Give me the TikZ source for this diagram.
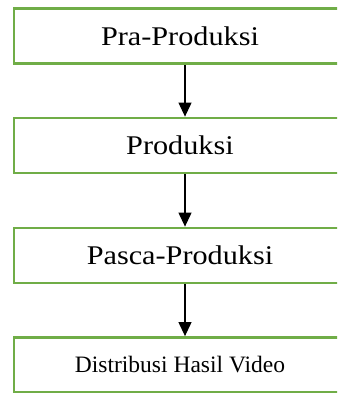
\documentclass[tikz,border=0pt]{standalone}
\usepackage{fontspec}
\setmainfont{Liberation Serif}
\newfontfamily\widefont[FakeStretch=1.12]{Liberation Serif}
\usetikzlibrary{arrows.meta}
\definecolor{boxgreen}{HTML}{70AD47}
\tikzset{
  stagebox/.style={draw=boxgreen, line width=2.8pt, minimum width=332pt, minimum height=55pt, inner sep=0pt, anchor=center},
  flowarrow/.style={draw=black, line width=1.1pt, -{Triangle[width=13pt,length=14pt]}}
}
\begin{document}
\begin{tikzpicture}[x=1pt,y=-1pt]
\useasboundingbox (0,0) rectangle (337,393);
\begin{scope}
\clip (0,0) rectangle (337,393);
\node[stagebox, font=\widefont\fontsize{27}{30}\selectfont] (pra) at (180,36) {Pra-Produksi};
\node[stagebox, font=\widefont\fontsize{27}{30}\selectfont] (prod) at (180,145.5) {Produksi};
\node[stagebox, font=\widefont\fontsize{27}{30}\selectfont] (pasca) at (180,255.5) {Pasca-Produksi};
\node[stagebox, font=\fontsize{23.5}{26}\selectfont] (dist) at (180,365) {Distribusi Hasil Video};
\end{scope}
\draw[flowarrow] ([xshift=5pt]pra.south) -- ([xshift=5pt]prod.north);
\draw[flowarrow] ([xshift=5pt]prod.south) -- ([xshift=5pt]pasca.north);
\draw[flowarrow] ([xshift=5pt]pasca.south) -- ([xshift=5pt]dist.north);
\end{tikzpicture}
\end{document}
